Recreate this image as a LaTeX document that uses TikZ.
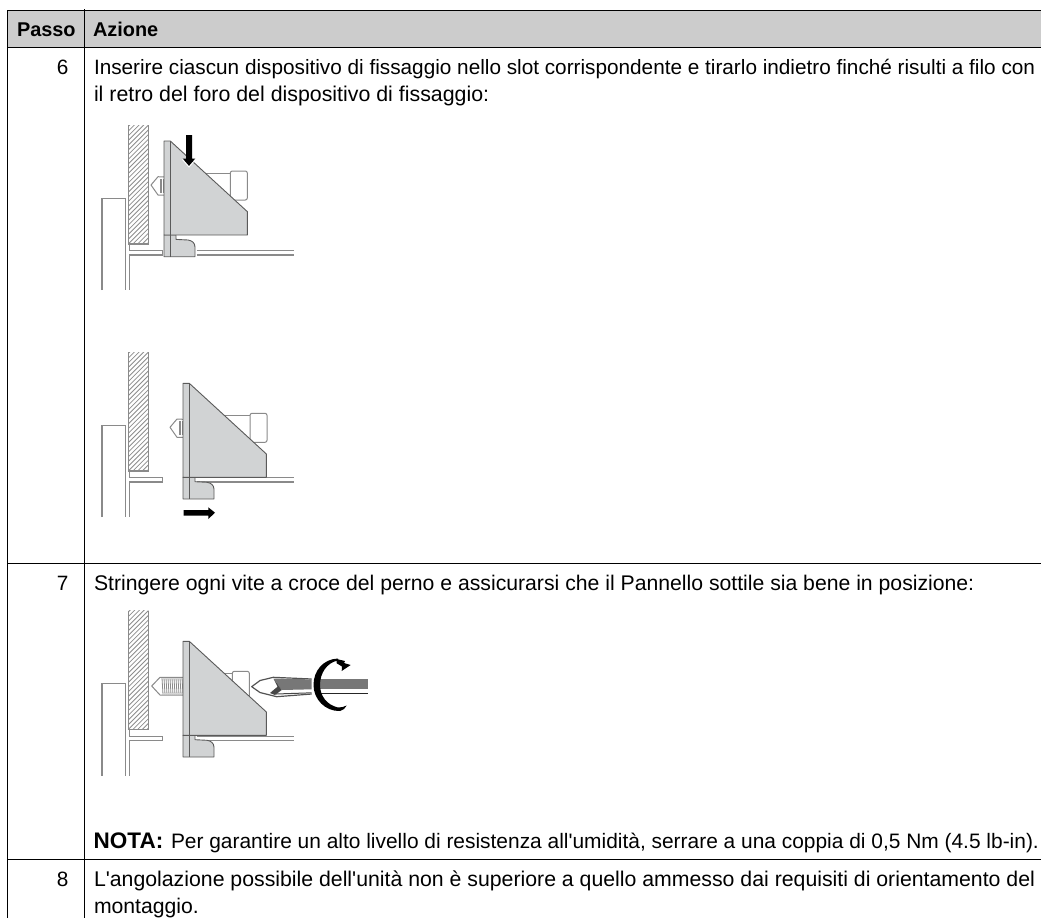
\documentclass[tikz,border=0pt]{standalone}
\usepackage{fontspec}
\setmainfont{Liberation Sans}[Ligatures=TeXOff]
\usetikzlibrary{arrows.meta}
\definecolor{headgray}{HTML}{CCCCCC}
\definecolor{devgray}{HTML}{D1D3D4}
\definecolor{devline}{HTML}{5A5A5A}
\definecolor{frameline}{HTML}{8A8A8A}
\definecolor{hatchline}{HTML}{8C8C8C}
\definecolor{bladegray}{HTML}{777777}
\tikzset{
  rule/.style={draw=black,line width=0.9pt},
  txt/.style={anchor=base west,inner sep=0pt,outer sep=0pt,font=\fontsize{21.2}{26}\selectfont},
  num/.style={anchor=base east,inner sep=0pt,outer sep=0pt,font=\fontsize{20.75}{26}\selectfont},
  hdr/.style={anchor=base west,inner sep=0pt,outer sep=0pt,font=\fontsize{19.9}{26}\selectfont\bfseries},
  frame/.style={draw=frameline,line width=1.1pt},
  dev/.style={draw=devline,fill=devgray,line width=0.9pt,line join=round},
  bolt/.style={draw=frameline,fill=white,line width=1pt,line join=round},
  blackarrow/.style={fill=black,draw=none},
}
\newcommand{\wallpart}[1]{%
 \begin{scope}[yshift=-#1pt]
  \begin{scope}
   \clip (128.7,125) rectangle (148.3,244);
   \foreach \k in {0,...,32}{\draw[hatchline,line width=0.8pt] (125,125+\k*4.7) -- (152,125+\k*4.7-27);}
  \end{scope}
  \draw[frame] (128.7,125) -- (128.7,244) -- (148.3,244) -- (148.3,125);
  \draw[frame] (102,290) -- (102,198.3) -- (125.7,198.3) -- (125.7,290);
  \draw[frame] (129.3,244) -- (129.3,290);
 \end{scope}}
\newcommand{\panelleft}[1]{%
 \begin{scope}[yshift=-#1pt]
  \fill[white] (129.3,250.7) rectangle (162.7,255);
  \draw[frame] (129.3,250.7) -- (162.7,250.7) -- (162.7,255) -- (129.3,255);
 \end{scope}}
\newcommand{\panelright}[1]{%
 \begin{scope}[yshift=-#1pt]
  \draw[frame] (196.7,250.7) -- (294,250.7);
  \draw[frame] (196.7,255) -- (294,255);
 \end{scope}}
\newcommand{\devpart}[3]{%
 \begin{scope}[xshift=#1pt,yshift=-#2pt]
  \draw[bolt,rounded corners=2pt] (#3,171) rectangle (#3+17,200);
  \draw[frameline,line width=1pt] (200,173.3) -- (#3,173.3);
  \draw[dev] (164,235) -- (176,235) -- (176,239.4) -- (188,240) .. controls (192,240.5) and (195,243) .. (195,247) -- (195,256.7) -- (164,256.7) -- cycle;
  \draw[dev] (164,141) -- (170.3,141) -- (247.4,211.7) -- (247.4,235) -- (164,235) -- cycle;
  \draw[devline,line width=0.9pt] (170.3,141) -- (170.3,256.7);
 \end{scope}}
\newcommand{\boltshort}[2]{%
 \begin{scope}[xshift=#1pt,yshift=-#2pt]
  \draw[bolt] (164,177) -- (158,176.7) -- (151,185) -- (158,195) -- (164,195);
  \foreach \v in {160,161.5,163}{\draw[frameline,line width=0.7pt] (\v,179) -- (\v,193);}
 \end{scope}}
\begin{document}
\begin{tikzpicture}[x=1pt,y=-1pt]
\useasboundingbox (0,0) rectangle (1041,918);
% table
\fill[headgray] (7.5,10.5) rectangle (1041,47);
\draw[rule] (7.5,10.5) -- (1041,10.5);
\draw[rule] (7.5,47) -- (1041,47);
\draw[rule] (7.5,563) -- (1041,563);
\draw[rule] (7.5,859.5) -- (1041,859.5);
\draw[rule] (7.5,10.1) -- (7.5,918);
\draw[rule] (84.5,9) -- (84.5,918);
% texts
\node[hdr] (h1) at (17,36.6) {Passo};
\node[hdr] (h2) at (93,36.6) {Azione};
\node[num] (n6) at (68.5,74.5) {6};
\node[txt,font=\fontsize{20.75}{26}\selectfont] (t6a) at (94,74.5) {Inserire ciascun dispositivo di fissaggio nello slot corrispondente e tirarlo indietro finché risulti a filo con};
\node[txt,font=\fontsize{21.35}{26}\selectfont] (t6b) at (94,101.5) {il retro del foro del dispositivo di fissaggio:};
\node[num] (n7) at (68.5,590.7) {7};
\node[txt] (t7) at (94,590.7) {Stringere ogni vite a croce del perno e assicurarsi che il Pannello sottile sia bene in posizione:};
\node[anchor=base west,inner sep=0pt,font=\fontsize{22.5}{26}\selectfont\bfseries] (nota) at (93.5,848.3) {NOTA:};
\node[txt,font=\fontsize{20.92}{26}\selectfont] (t7n) at (171,848.3) {Per garantire un alto livello di resistenza all'umidità, serrare a una coppia di 0,5 Nm (4.5 lb-in).};
\node[num] (n8) at (68.5,886.5) {8};
\node[txt,font=\fontsize{21.27}{26}\selectfont] (t8a) at (94,886.5) {L'angolazione possibile dell'unità non è superiore a quello ammesso dai requisiti di orientamento del};
\node[txt] (t8b) at (94,913) {montaggio.};
% drawing 1
\wallpart{0}
\panelleft{0}
\panelright{0}
\boltshort{0}{0}
\devpart{0}{0}{230.3}
\fill[blackarrow] (186,135) -- (192,135) -- (192,158.5) -- (195.3,158.5) -- (189,166) -- (182.7,158.5) -- (186,158.5) -- cycle;
\draw[white,line width=0.8pt] (182.4,159.5) -- (189,167) -- (195.6,159.5);
% drawing 2
\wallpart{227}
\panelleft{227}
\panelright{227}
\boltshort{19}{242.3}
\devpart{19}{242.3}{231}
\fill[blackarrow] (183.7,510) -- (208.3,510) -- (208.3,507.3) -- (215,512.7) -- (208.3,519) -- (208.3,515.7) -- (183.7,515.7) -- cycle;
% drawing 3
\wallpart{485.5}
\panelleft{485.5}
\panelright{485.5}
\draw[bolt] (183,677.3) -- (160,677.3) -- (151.7,686) -- (160,695) -- (183,695);
\foreach \v in {162,164,...,182}{\draw[frameline,line width=0.8pt] (\v,677.8) -- (\v+1,694.5);}
\devpart{19}{500.3}{213.3}
% screwdriver blade
\draw[bladegray!70!black,line width=1.2pt,fill=white,line join=round] (311.7,679) -- (273.3,677.3) -- (260,680.5) -- (251.7,686.7) -- (260,692.5) -- (276.7,696.7) -- (311.7,694);
\fill[bladegray] (273.5,678.5) -- (311.7,679.4) -- (311.7,689.3) -- (281.7,690) -- cycle;
\fill[bladegray!60!black] (273.5,678.5) -- (281.7,690) -- (275,695) -- (270,693) -- (277.5,686.7) -- cycle;
\draw[bladegray!60!black,line width=1pt] (276,694) -- (311.7,692.8);
% screwdriver shaft
\fill[bladegray] (320,678.5) rectangle (368.3,689.3);
\draw[black!85,line width=1.4pt] (320,693.3) -- (368.3,693.3);
% rotation arrow
\fill[black] (338,658.5) .. controls (323,659) and (313.5,671) .. (313.5,685) .. controls (313.5,699) and (325,711.5) .. (340,711) .. controls (343,710.5) and (345.5,708) .. (346.7,705.5) .. controls (344,706.5) and (341,708) .. (338,707.5) .. controls (327,705) and (320,696) .. (320,685) .. controls (320,673) and (327,662.5) .. (338,660.5) -- cycle;
\fill[black] (336.5,659) -- (345,661) -- (344,663) -- (350.7,665) -- (341.7,671) -- (342,666.5) -- (336.7,663.3) -- cycle;
\end{tikzpicture}
\end{document}
